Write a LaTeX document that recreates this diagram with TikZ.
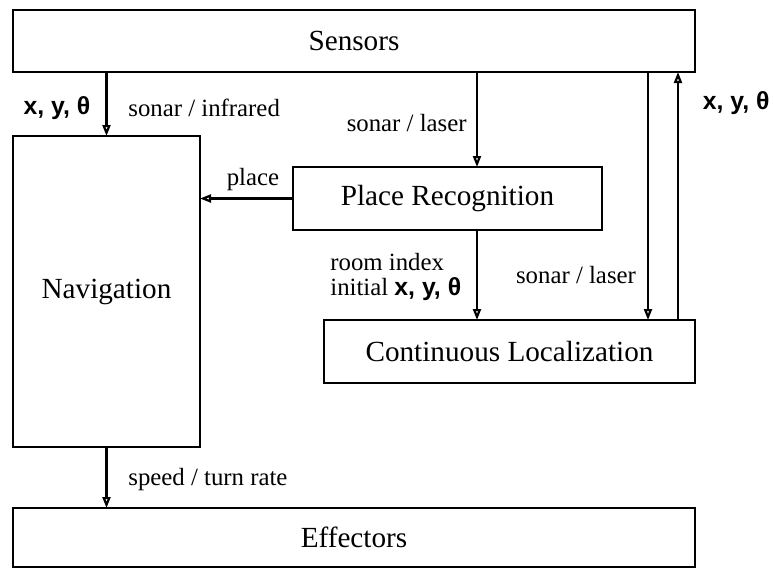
\documentclass[tikz,border=0pt]{standalone}
\usepackage{fontspec}
\setmainfont{Liberation Serif}
\newfontfamily\xyfont{Liberation Sans}
\usetikzlibrary{arrows.meta}
\newcommand{\xyth}{{\xyfont\bfseries x, y, θ}}

\begin{document}
\begin{tikzpicture}[x=0.5pt, y=-0.5pt,
    box/.style={draw, line width=1.1pt, inner sep=0pt, outer sep=0pt,
      font=\fontsize{14.6}{17}\selectfont},
    lbl/.style={inner sep=0pt, font=\fontsize{12.4}{12.6}\selectfont},
    sig/.style={line width=1.1pt, -{Triangle[open, length=5.5pt, width=4pt]}}]

  \useasboundingbox (0,0) rectangle (773,569);

  % modules
  \node[box, minimum width=341pt, minimum height=31pt] (sens) at (354,41) {Sensors};
  \node[box, minimum width=93.5pt, minimum height=155.5pt] (nav) at (106.5,291.5) {Navigation};
  \node[box, minimum width=154.5pt, minimum height=31.5pt] (pr) at (447.5,198.5) {Place Recognition};
  \node[box, minimum width=185.5pt, minimum height=31.5pt] (cl) at (509.5,351.5) {Continuous Localization};
  \node[box, minimum width=341pt, minimum height=29.5pt] (eff) at (354,537.5) {Effectors};

  % where the vertical lines run
  \coordinate (c1) at (477,0);
  \coordinate (c2) at (648,0);
  \coordinate (c3) at (678,0);

  \draw[sig] (sens.south -| nav.north) -- (nav.north);
  \draw[sig] (sens.south -| c1) -- (pr.north -| c1);
  \draw[sig] (pr.west) -- (pr.west -| nav.east);
  \draw[sig] (pr.south -| c1) -- (cl.north -| c1);
  \draw[sig] (sens.south -| c2) -- (cl.north -| c2);
  \draw[sig] (cl.north -| c3) -- (sens.south -| c3);
  \draw[sig] (nav.south) -- (eff.north -| nav.south);

  % labels
  \node[lbl] (l1) at (57,108) {\xyth};
  \node[lbl, anchor=west] (l2) at (128,108) {sonar / infrared};
  \node[lbl, anchor=east] (l3) at (467,123) {sonar / laser};
  \node[lbl] (l4) at (253,180) {place};
  \node[lbl, anchor=west, align=left] (l5) at (330,277) {room index\\initial \xyth};
  \node[lbl] (l6) at (576,275) {sonar / laser};
  \node[lbl, anchor=east] (l7) at (770,103) {\xyth};
  \node[lbl, anchor=west] (l8) at (128,480) {speed / turn rate};

\end{tikzpicture}
\end{document}
